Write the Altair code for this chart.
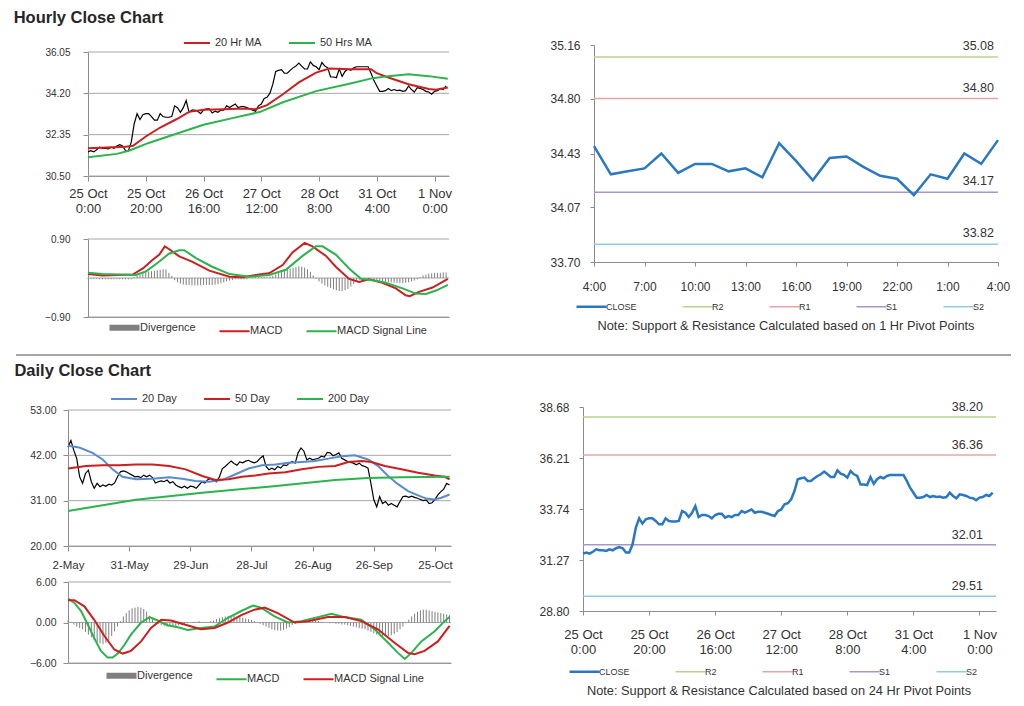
import altair as alt
import pandas as pd

FONT = "Liberation Sans"
TXT = "#333333"
AXC = "#8c8c8c"
GRID = "#a6a6a6"

# ---------------- Hourly data (25 Oct 0:00 .. 1 Nov 4:00, one value per hour) ----------------
hourly_close = [
    31.58, 31.63, 31.58, 31.67, 31.79, 31.74, 31.74, 31.71, 31.79, 31.74,
    31.84, 31.90, 31.84, 31.63, 31.63, 32.03, 32.84, 33.29, 33.03, 33.24,
    33.29, 33.29, 33.16, 33.00, 33.00, 33.29, 33.16, 33.13, 33.13, 33.16,
    33.64, 33.56, 33.35, 33.56, 33.88, 33.35, 33.45, 33.45, 33.40, 33.29,
    33.45, 33.51, 33.51, 33.32, 33.40, 33.35, 33.45, 33.45, 33.64, 33.56,
    33.64, 33.72, 33.56, 33.61, 33.61, 33.56, 33.51, 33.45, 33.40, 33.64,
    33.72, 33.97, 34.02, 34.21, 34.61, 35.18, 35.23, 35.26, 35.10, 35.10,
    35.23, 35.34, 35.42, 35.55, 35.42, 35.29, 35.29, 35.61, 35.45, 35.39,
    35.26, 35.58, 35.42, 35.34, 34.93, 34.93, 34.90, 35.29, 34.96, 35.18,
    35.29, 35.23, 35.34, 35.39, 35.39, 35.39, 35.39, 35.39, 35.10, 34.77,
    34.53, 34.29, 34.29, 34.32, 34.42, 34.32, 34.37, 34.32, 34.34, 34.29,
    34.32, 34.53, 34.37, 34.26, 34.45, 34.42, 34.37, 34.29, 34.26, 34.16,
    34.29, 34.32, 34.42, 34.37, 34.53,
]
hourly_ticks = [0, 20, 40, 60, 80, 100, 120]
hourly_tick_labels = [["25 Oct", "0:00"], ["25 Oct", "20:00"], ["26 Oct", "16:00"],
                      ["27 Oct", "12:00"], ["28 Oct", "8:00"], ["31 Oct", "4:00"],
                      ["1 Nov", "0:00"]]

ma20_idx = [0, 13, 15.6, 20, 25, 30.6, 35, 40, 47, 53.6, 58, 62, 67.5, 73, 79, 83.6,
            90.5, 98, 100, 104, 111, 118, 120.5, 124.6]
ma20_val = [31.74, 31.81, 31.85, 32.27, 32.67, 33.04, 33.37, 33.46, 33.49, 33.52, 33.49,
            33.67, 34.16, 34.69, 35.13, 35.31, 35.28, 35.28, 35.10, 34.91, 34.61, 34.39,
            34.36, 34.46]
ma50_idx = [0, 10, 14.4, 21, 30.6, 40, 50, 59.4, 67.5, 79, 90.5, 98.6, 104, 111, 118, 124.6]
ma50_val = [31.34, 31.49, 31.64, 31.98, 32.39, 32.79, 33.09, 33.36, 33.80, 34.30, 34.63,
            34.88, 34.97, 35.05, 34.97, 34.85]

macd_h_idx = [0, 5, 15.5, 19, 22.4, 24.7, 26.6, 28, 31.6, 36, 42, 49, 53.5, 60.4, 62.7,
              67.4, 70.8, 75, 77.7, 82.4, 85.8, 90.4, 93.9, 97.3, 101.9, 106.6, 110,
              111.4, 114.6, 119.3, 124.6]
macd_h_val = [0.09, 0.06, 0.08, 0.22, 0.42, 0.54, 0.73, 0.67, 0.50, 0.38, 0.17, 0.03,
              0.02, 0.09, 0.11, 0.30, 0.59, 0.81, 0.73, 0.51, 0.26, -0.02, -0.09, -0.03,
              -0.11, -0.24, -0.40, -0.42, -0.32, -0.22, -0.02]
sig_h_idx = [0, 5, 16.6, 20, 24.7, 28, 31.6, 33.3, 37.4, 43, 49, 56, 62.7, 68.5, 74.3,
             78.9, 81.2, 85.8, 90.4, 94.5, 98.5, 103.1, 108.9, 113.5, 117, 120.5, 124.6]
sig_h_val = [0.12, 0.09, 0.07, 0.15, 0.38, 0.56, 0.64, 0.64, 0.46, 0.26, 0.09, 0.03,
             0.07, 0.19, 0.51, 0.73, 0.73, 0.54, 0.22, -0.02, -0.05, -0.11, -0.24, -0.36,
             -0.37, -0.29, -0.16]
div_h = [
    -0.02, -0.02, -0.02, -0.02, -0.03, -0.03, -0.03, -0.03, -0.03, -0.03,
    -0.03, -0.03, -0.03, -0.03, -0.03, -0.03, 0.02, 0.05, 0.08, 0.11,
    0.13, 0.15, 0.16, 0.17, 0.18, 0.19, 0.20, 0.20, 0.12, 0.05,
    -0.05, -0.10, -0.13, -0.15, -0.16, -0.16, -0.17, -0.17, -0.17, -0.17,
    -0.16, -0.16, -0.16, -0.16, -0.15, -0.14, -0.12, -0.10, -0.08, -0.06,
    -0.05, -0.03, -0.03, -0.03, -0.03, -0.03, 0.01, 0.01, 0.02, 0.02,
    0.02, 0.02, 0.02, 0.03, 0.05, 0.08, 0.11, 0.14, 0.17, 0.20,
    0.22, 0.24, 0.25, 0.27, 0.26, 0.24, 0.20, 0.14, 0.06, -0.02,
    -0.08, -0.13, -0.17, -0.20, -0.23, -0.26, -0.28, -0.30, -0.30, -0.28,
    -0.25, -0.20, -0.14, -0.08, -0.04, -0.02, -0.03, -0.03, -0.04, -0.05,
    -0.06, -0.07, -0.08, -0.09, -0.10, -0.10, -0.11, -0.11, -0.12, -0.12,
    -0.11, -0.10, -0.08, -0.06, -0.03, 0.02, 0.06, 0.08, 0.10, 0.11,
    0.12, 0.12, 0.12, 0.13, 0.13,
]

# 1-hour pivot chart (last 24 hours)
pivot1_close = [34.48, 34.29, 34.31, 34.33, 34.43, 34.30, 34.36, 34.36, 34.31, 34.33,
                34.27, 34.50, 34.38, 34.25, 34.40, 34.41, 34.34, 34.28, 34.26, 34.15,
                34.29, 34.26, 34.43, 34.36, 34.52]
pivot1_ticks = [0, 3, 6, 9, 12, 15, 18, 21, 24]
pivot1_tick_labels = ["4:00", "7:00", "10:00", "13:00", "16:00", "19:00", "22:00", "1:00", "4:00"]
pivot1_names = ["R2", "R1", "S1", "S2"]
pivot1_levels = [35.08, 34.80, 34.17, 33.82]

# ---------------- Daily data (2 May .. 1 Nov, one value per trading day) ----------------
daily_close = [
    44.0, 45.6, 43.2, 41.2, 36.8, 35.2, 37.6, 38.4, 35.6, 34.0,
    35.2, 34.4, 34.8, 34.5, 35.0, 34.8, 35.3, 36.8, 38.0, 38.2,
    38.0, 37.6, 37.2, 36.8, 36.9, 36.6, 37.2, 36.8, 37.2, 36.6,
    35.3, 35.6, 35.8, 35.6, 36.0, 35.3, 35.6, 34.8, 34.4, 34.1,
    34.5, 34.0, 34.5, 34.4, 34.0, 34.8, 35.6, 35.3, 36.1, 36.4,
    35.8, 35.6, 36.8, 38.8, 39.3, 40.0, 40.6, 40.0, 39.6, 40.4,
    40.2, 40.6, 40.8, 40.4, 40.2, 40.5, 41.3, 41.9, 39.3, 38.5,
    38.9, 38.5, 39.3, 38.9, 39.7, 39.5, 40.1, 40.5, 40.1, 42.6,
    43.8, 43.0, 40.9, 41.3, 40.9, 41.1, 41.3, 41.8, 41.6, 42.7,
    42.6, 41.9, 42.2, 42.6, 41.3, 40.9, 40.5, 40.3, 40.1, 39.7,
    40.1, 39.5, 39.3, 38.9, 35.2, 31.2, 29.5, 32.0, 30.3, 30.8,
    29.9, 30.3, 29.9, 29.5, 30.8, 32.0, 32.1, 31.8, 32.1, 31.8,
    31.6, 31.3, 31.0, 31.2, 30.3, 30.5, 31.3, 32.4, 33.2, 33.8,
    35.2, 34.8,
]
daily_ticks = [0, 21, 42, 63, 84, 105, 126]
daily_tick_labels = ["2-May", "31-May", "29-Jun", "28-Jul", "26-Aug", "26-Sep", "25-Oct"]

ma20d_idx = [0, 3.9, 8.4, 11.9, 15.3, 18.7, 23.3, 29, 34.7, 39.2, 43.8, 48.3, 52.9, 57.5,
             62, 66.6, 71.2, 75.7, 80.3, 84.8, 89.4, 94, 98.5, 103, 106.5, 109.9, 113.3,
             116.8, 120.2, 123, 125.9, 128.2, 131]
ma20d_val = [44.3, 43.9, 42.6, 41.0, 38.6, 36.8, 36.2, 36.3, 36.7, 36.3, 35.8, 35.6, 36.0,
             37.4, 38.8, 39.6, 39.8, 40.2, 40.4, 40.6, 41.2, 41.8, 42.0, 41.0, 39.4, 37.0,
             35.0, 33.3, 32.3, 31.5, 31.3, 31.7, 32.5]
ma50d_idx = [0, 6.2, 11.9, 17.6, 23.3, 29, 34.7, 40.4, 46.1, 50.6, 55.2, 59.7, 64.3, 68.9,
             74.6, 80.3, 86, 91.7, 96.2, 100.8, 104.2, 108.8, 114.5, 120.2, 125.9, 129.3, 131]
ma50d_val = [38.8, 39.4, 39.6, 39.6, 39.8, 39.8, 39.4, 38.6, 37.0, 36.0, 36.2, 36.8, 37.1,
             37.6, 37.9, 38.6, 39.2, 39.4, 40.4, 40.6, 40.4, 39.4, 38.6, 37.8, 37.1, 36.8, 36.2]
ma200d_idx = [0, 23.3, 46.1, 68.9, 91.7, 103, 114.5, 131]
ma200d_val = [28.5, 31.2, 32.9, 34.4, 36.0, 36.5, 36.7, 36.8]

macd_d_idx = [0, 2.2, 4.5, 6.8, 9, 11.3, 13.6, 15.3, 17.1, 19.4, 21.6, 25.1, 28, 30.8, 34.2,
              37.7, 41.1, 45.7, 50.3, 54.9, 59.5, 63.5, 66.3, 70.9, 75.5, 80.1, 85.8, 90.4,
              95, 100.7, 105.3, 109.9, 113.3, 115.6, 117.9, 121.3, 125.9, 129.3, 131]
macd_d_val = [3.56, 2.9, 1.7, -0.3, -2.3, -4.2, -5.2, -5.2, -4.6, -3.3, -1.8, 0.0, 0.8, 0.3,
              -0.4, -0.7, -1.1, -0.8, -0.6, 0.7, 1.7, 2.5, 2.2, 0.9, 0.0, 0.2, 0.8, 1.3, 0.8,
              0.4, -1.0, -3.0, -4.5, -5.4, -4.5, -2.8, -1.3, 0.2, 0.8]
sig_d_idx = [0, 2.2, 5.6, 9, 12.5, 15.9, 18.8, 21.6, 25.1, 28.5, 32, 35.4, 40, 45.7, 50.3,
             54.9, 59.5, 64, 67.5, 72, 77.8, 82.4, 89.2, 95, 100.7, 106.4, 112.1, 116.7,
             119, 122.4, 127, 131]
sig_d_val = [3.3, 3.3, 2.4, 0.4, -2.0, -4.0, -4.6, -4.2, -2.8, -0.8, 0.4, 0.3, -0.3, -1.0,
             -0.8, 0.0, 1.1, 1.9, 2.2, 1.4, 0.0, 0.2, 0.8, 0.8, 0.2, -1.0, -3.0, -4.5, -4.7,
             -4.2, -2.8, -0.5]
div_d = [
    0.3, 0.1, -0.3, -0.6, -0.8, -1.0, -1.4, -1.8, -2.2, -2.6,
    -2.9, -3.1, -3.2, -3.0, -2.6, -2.0, -1.3, -0.6, 0.2, 0.9,
    1.4, 1.8, 2.1, 2.2, 2.3, 2.2, 2.0, 1.6, 1.0, 0.5,
    0.1, -0.2, -0.4, -0.5, -0.6, -0.6, -0.5, -0.5, -0.4, -0.3,
    -0.2, -0.1, 0.0, 0.1, 0.1, 0.2, 0.1, 0.1, 0.1, 0.2,
    0.3, 0.5, 0.7, 0.8, 0.9, 1.0, 1.0, 1.0, 0.9, 0.8,
    0.7, 0.6, 0.5, 0.4, 0.2, 0.0, -0.2, -0.4, -0.6, -0.8,
    -1.0, -1.1, -1.2, -1.2, -1.1, -0.9, -0.7, -0.4, -0.2, 0.0,
    0.2, 0.3, 0.4, 0.4, 0.4, 0.3, 0.2, 0.1, 0.0, 0.0,
    -0.1, -0.1, -0.2, -0.2, -0.3, -0.3, -0.4, -0.5, -0.6, -0.7,
    -0.8, -0.9, -1.0, -1.2, -1.4, -1.6, -1.8, -1.9, -2.0, -2.0,
    -2.0, -1.9, -1.7, -1.4, -1.0, -0.6, -0.1, 0.4, 0.9, 1.3,
    1.6, 1.8, 1.9, 1.9, 1.8, 1.7, 1.6, 1.5, 1.4, 1.3,
    1.2, 1.1,
]

# 24-hour pivot chart uses the hourly closes
pivot2_names = ["R2", "R1", "S1", "S2"]
pivot2_levels = [38.20, 36.36, 32.01, 29.51]

# ---------------- colours ----------------
RED = "#cc1f1f"
GREEN = "#2cb34e"
BLUE_MA = "#5a8ccc"
GRAY_DIV = "#7f7f7f"
PIV_COLORS = ["#2a78c2", "#b9d38c", "#e8a4a4", "#a996c9", "#8fcde0"]
PIV_NAMES = ["CLOSE", "R2", "R1", "S1", "S2"]


def label_expr(labels, step):
    def lit(lab):
        if isinstance(lab, list):
            return "[" + ",".join("'%s'" % p for p in lab) + "]"
        return "'%s'" % lab
    arr = "[" + ",".join(lit(l) for l in labels) + "]"
    return "%s[round(datum.value/%s)]" % (arr, step)


def series_df(idx, vals, name):
    return pd.DataFrame({"i": idx, "v": vals, "s": name})


def legend(x, y, size, sw, col_pad, lab_off, font=11):
    return alt.Legend(
        title=None, orient="none", legendX=x, legendY=y, direction="horizontal",
        symbolType="stroke", symbolSize=size, labelFontSize=font, labelColor=TXT,
        labelFont=FONT, columnPadding=col_pad, labelOffset=lab_off, symbolStrokeWidth=sw)


def grid_layer(yticks, y, xdom):
    gdf = pd.DataFrame({"v": yticks})
    return alt.Chart(gdf).mark_rule(color=GRID, strokeWidth=1).encode(
        y=y, x=alt.datum(xdom[0]), x2=alt.datum(xdom[1]))


def close_panel(close_vals, ma_frames, names, colors, xdom, xticks, xlabels, lstep,
                ydom, yticks, w, h, x_in, y_in, leg_x, leg_y, ylabpad, xlabsize, ylabsize,
                xlabpad):
    df = pd.DataFrame({"i": list(range(len(close_vals))), "v": close_vals})
    xax = alt.Axis(values=xticks, labelExpr=label_expr(xlabels, lstep), labelFlush=False,
                   labelOverlap=False, grid=False, title=None, labelFontSize=xlabsize,
                   labelLineHeight=15, labelPadding=xlabpad)
    yax = alt.Axis(values=yticks, format=".2f", grid=False, title=None, labelFontSize=ylabsize,
                   labelPadding=ylabpad, offset=-x_in)
    x = alt.X("i:Q", scale=alt.Scale(domain=xdom, nice=False, zero=False, range=[x_in, w]),
              axis=xax)
    y = alt.Y("v:Q", scale=alt.Scale(domain=ydom, nice=False, zero=False, range=[h, y_in]),
              axis=yax)
    grid = grid_layer(yticks, y, xdom)
    base = alt.Chart(df).mark_line(color="black", strokeWidth=1.2).encode(x=x, y=y)
    ma = alt.Chart(pd.concat(ma_frames)).mark_line(strokeWidth=2).encode(
        x="i:Q", y="v:Q",
        color=alt.Color("s:N", scale=alt.Scale(domain=names, range=colors), sort=names,
                        legend=legend(leg_x, leg_y, 676, 2, 23, 4)))
    return alt.layer(grid, base, ma).properties(width=w, height=h)


def macd_panel(div_vals, line_frames, names, colors, xdom, xticks, w, h, x_in, leg_x, leg_y,
               ydom, yticks, ylabpad, ylabsize):
    ddf = pd.DataFrame({"i": list(range(len(div_vals))), "v": div_vals, "z": 0.0,
                        "s": "Divergence"})
    x = alt.X("i:Q", scale=alt.Scale(domain=xdom, nice=False, zero=False, range=[x_in, w]),
              axis=alt.Axis(values=xticks, labels=False, ticks=False, grid=False, title=None))
    y = alt.Y("v:Q", scale=alt.Scale(domain=ydom, nice=False, zero=False),
              axis=alt.Axis(values=yticks, format=".2f", grid=False, title=None,
                            labelFontSize=ylabsize, labelPadding=ylabpad, offset=-x_in))
    cscale = alt.Scale(domain=["Divergence"] + names, range=[GRAY_DIV] + colors)
    leg = legend(leg_x, leg_y, 900, alt.ExprRef("datum.value === 'Divergence' ? 6 : 2"), 19, 10)
    grid = grid_layer(yticks, y, xdom)
    bars = alt.Chart(ddf).mark_rule(strokeWidth=1).encode(
        x=x, y=y, y2="z:Q",
        color=alt.Color("s:N", scale=cscale, sort=["Divergence"] + names, legend=leg))
    lines = alt.Chart(pd.concat(line_frames)).mark_line(strokeWidth=2).encode(
        x="i:Q", y="v:Q", color=alt.Color("s:N", scale=cscale, legend=leg))
    return alt.layer(grid, bars, lines).properties(width=w, height=h)


def pivot_panel(close_vals, names, levels, xdom, xticks, xlabels, lstep, ydom, yticks, w, h,
                leg_x, leg_y, note, xlabsize, xlabpad, txt_dx, txt_dy):
    cdf = pd.DataFrame({"i": list(range(len(close_vals))), "v": close_vals, "s": "CLOSE"})
    ldf = pd.DataFrame({"v": levels, "s": names, "xe": xdom[1]})
    cscale = alt.Scale(domain=PIV_NAMES, range=PIV_COLORS)
    leg = alt.Legend(
        title=note, titleOrient="bottom", titleAnchor="middle", titleFontSize=12.8,
        titleFontWeight="normal", titleColor=TXT, titleFont=FONT, titlePadding=8,
        titleLimit=600, orient="none", legendX=leg_x, legendY=leg_y,
        direction="horizontal", symbolType="stroke", symbolSize=900, labelFontSize=9,
        labelColor=TXT, labelFont=FONT, columnPadding=42, labelOffset=10,
        symbolStrokeWidth=alt.ExprRef("datum.value === 'CLOSE' ? 2.5 : 1.5"))
    x = alt.X("i:Q", scale=alt.Scale(domain=xdom, nice=False, zero=False),
              axis=alt.Axis(values=xticks, labelExpr=label_expr(xlabels, lstep),
                            labelFlush=False, labelOverlap=False, grid=False, title=None,
                            labelFontSize=xlabsize, labelLineHeight=15, labelPadding=xlabpad,
                            tickSize=4))
    y = alt.Y("v:Q", scale=alt.Scale(domain=ydom, nice=False, zero=False),
              axis=alt.Axis(values=yticks, format=".2f", grid=False, title=None,
                            labelFontSize=12, labelPadding=10, tickSize=4))
    rules = alt.Chart(ldf).mark_rule(strokeWidth=1.5).encode(
        y=y, color=alt.Color("s:N", scale=cscale, sort=PIV_NAMES, legend=leg))
    line = alt.Chart(cdf).mark_line(strokeWidth=2.5).encode(
        x=x, y="v:Q", color=alt.Color("s:N", scale=cscale, legend=leg))
    txt = alt.Chart(ldf).mark_text(align="right", baseline="middle", dx=txt_dx, dy=txt_dy,
                                   fontSize=12.5, color=TXT, font=FONT).encode(
        x="xe:Q", y="v:Q", text=alt.Text("v:Q", format=".2f"))
    return alt.layer(rules, line, txt).properties(width=w, height=h)


# ---------------- panels ----------------
close_h = close_panel(
    hourly_close,
    [series_df(ma20_idx, ma20_val, "20 Hr MA"), series_df(ma50_idx, ma50_val, "50 Hrs MA")],
    ["20 Hr MA", "50 Hrs MA"], [RED, GREEN], [0, 125], hourly_ticks, hourly_tick_labels, 20,
    [30.5, 36.05], [30.5, 32.35, 34.2, 36.05], 381, 131, 20, 7, 115, -16, 13, 13, 10, 6)

macd_h = macd_panel(
    div_h,
    [series_df(macd_h_idx, macd_h_val, "MACD"), series_df(sig_h_idx, sig_h_val, "MACD Signal Line")],
    ["MACD", "MACD Signal Line"], [RED, GREEN], [0, 125], hourly_ticks, 381, 78, 20, 51, 83,
    [-0.9, 0.9], [-0.9, 0.0, 0.9], 13, 10)

pivot1 = pivot_panel(
    pivot1_close, pivot1_names, pivot1_levels, [0, 24], pivot1_ticks, pivot1_tick_labels, 3,
    [33.70, 35.16], [33.70, 34.07, 34.43, 34.80, 35.16], 404, 217, -7, 257,
    "Note: Support & Resistance Calculated based on 1 Hr Pivot Points", 12, 15, -4, -11)

close_d = close_panel(
    daily_close,
    [series_df(ma20d_idx, ma20d_val, "20 Day"), series_df(ma50d_idx, ma50d_val, "50 Day"),
     series_df(ma200d_idx, ma200d_val, "200 Day")],
    ["20 Day", "50 Day", "200 Day"], [BLUE_MA, RED, GREEN], [0, 131.5], daily_ticks,
    daily_tick_labels, 21, [20, 53], [20, 31, 42, 53], 383, 139, 0, 3, 42, -22, 7, 11.5, 10.5,
    8)

macd_d = macd_panel(
    div_d,
    [series_df(macd_d_idx, macd_d_val, "MACD"), series_df(sig_d_idx, sig_d_val, "MACD Signal Line")],
    ["MACD", "MACD Signal Line"], [GREEN, RED], [0, 131.5], daily_ticks, 383, 81, 0, 48, 88,
    [-6, 6], [-6, 0, 6], 7, 10.5)

pivot2 = pivot_panel(
    hourly_close, pivot2_names, pivot2_levels, [0, 125], hourly_ticks, hourly_tick_labels, 20,
    [28.80, 38.68], [28.80, 31.27, 33.74, 36.21, 38.68], 413, 204, -3, 260,
    "Note: Support & Resistance Calculated based on 24 Hr Pivot Points", 13, 13, -13, -10)

TITLE = dict(anchor="start", fontSize=16.5, fontWeight="bold", font=FONT, color="#262626")

left1 = alt.vconcat(close_h, macd_h, spacing=19).resolve_scale(color="independent")
row1 = alt.hconcat(left1, pivot1, spacing=97,
                   title=alt.Title("Hourly Close Chart", dx=-31, offset=3, **TITLE)
                   ).resolve_scale(color="independent")
left2 = alt.vconcat(close_d, macd_d, spacing=6).resolve_scale(color="independent")
row2 = alt.hconcat(left2, pivot2, spacing=84,
                   title=alt.Title("Daily Close Chart", dx=-15, offset=6, **TITLE)
                   ).resolve_scale(color="independent")

# full-width separator line between the two sections
sep = alt.Chart(pd.DataFrame({"a": [0]})).mark_rule(color="#a6a6a6", strokeWidth=2).encode(
    x=alt.value(-52), x2=alt.value(943), y=alt.value(0)).properties(width=1, height=1)

lower = alt.vconcat(sep, row2, spacing=6).resolve_scale(color="independent")

chart = alt.vconcat(row1, lower, spacing=14).resolve_scale(color="independent").properties(
    padding={"left": 5, "right": 0, "top": 1, "bottom": 0}
).configure_view(stroke=None).configure_axis(
    labelFont=FONT, labelColor=TXT, domainColor=AXC, tickColor=AXC, gridColor=GRID,
    tickSize=5, domainWidth=1, gridWidth=1
)

chart.save("out.html", embed_options={"renderer": "svg", "actions": False})
